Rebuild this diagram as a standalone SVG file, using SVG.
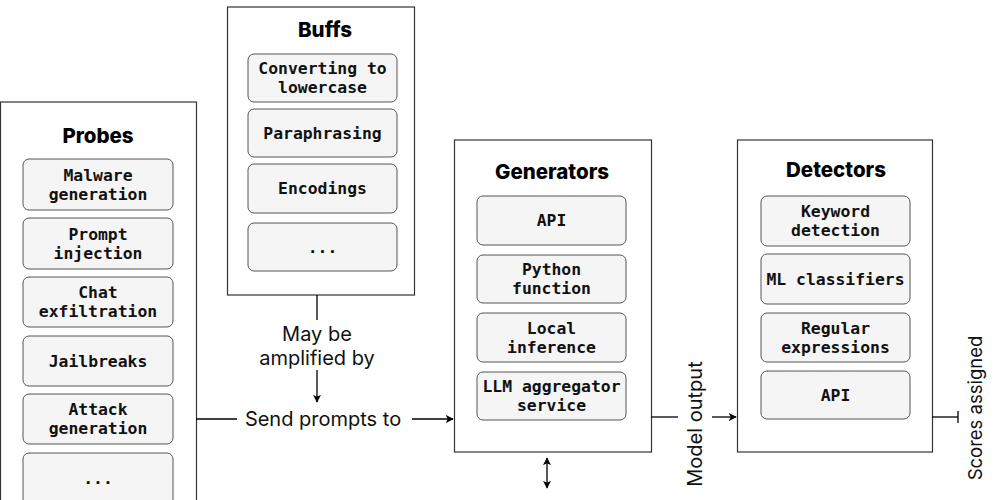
<svg xmlns="http://www.w3.org/2000/svg" width="1000" height="500" viewBox="0 0 1000 500">
<style>
.frame{fill:#fff;stroke:#333;stroke-width:1.2}
.item{fill:#f5f5f5;stroke:#555;stroke-width:1}
.title{font-family:Inter,"Liberation Sans",sans-serif;font-weight:800;font-size:20.5px;fill:#000;text-anchor:middle}
.mono{font-family:"DejaVu Sans Mono","Liberation Mono",monospace;font-weight:700;font-size:16.4px;fill:#111;text-anchor:middle}
.lbl{font-family:Inter,"Liberation Sans",sans-serif;font-size:20px;fill:#111;text-anchor:middle}
.edge{stroke:#000;stroke-width:1.3;fill:none}
</style>
<defs>
<marker id="arr" viewBox="0 0 10 10" refX="9" refY="5" markerWidth="8" markerHeight="8" markerUnits="userSpaceOnUse" orient="auto-start-reverse">
<path d="M0,0 L10,5 L0,10 L2.5,5 Z" fill="#000"/>
</marker>
</defs>
<rect x="0" y="0" width="1000" height="500" fill="#fff"/>

<g id="probes">
<rect class="frame" x="0.5" y="102" width="196" height="420"/>
<text class="title" x="98" y="143">Probes</text>
<rect class="item" x="23" y="159" width="150" height="51" rx="6"/>
<text class="mono" x="98" y="181">Malware</text><text class="mono" x="98" y="200">generation</text>
<rect class="item" x="23" y="218" width="150" height="51" rx="6"/>
<text class="mono" x="98" y="240">Prompt</text><text class="mono" x="98" y="259">injection</text>
<rect class="item" x="23" y="277" width="150" height="50" rx="6"/>
<text class="mono" x="98" y="298">Chat</text><text class="mono" x="98" y="317">exfiltration</text>
<rect class="item" x="23" y="336" width="150" height="50" rx="6"/>
<text class="mono" x="98" y="367">Jailbreaks</text>
<rect class="item" x="23" y="394" width="150" height="50" rx="6"/>
<text class="mono" x="98" y="415">Attack</text><text class="mono" x="98" y="434">generation</text>
<rect class="item" x="23" y="453" width="150" height="70" rx="6"/>
<text class="mono" x="98" y="484">...</text>
</g>

<g id="buffs">
<rect class="frame" x="227.5" y="7" width="187" height="288"/>
<text class="title" x="325" y="37">Buffs</text>
<rect class="item" x="248" y="54" width="149" height="48" rx="6"/>
<text class="mono" x="322.5" y="74">Converting to</text><text class="mono" x="322.5" y="93">lowercase</text>
<rect class="item" x="248" y="109" width="149" height="48" rx="6"/>
<text class="mono" x="322.5" y="139">Paraphrasing</text>
<rect class="item" x="248" y="164" width="149" height="49" rx="6"/>
<text class="mono" x="322.5" y="194">Encodings</text>
<rect class="item" x="248" y="223" width="149" height="48" rx="6"/>
<text class="mono" x="322.5" y="253">...</text>
</g>

<g id="generators">
<rect class="frame" x="454.5" y="140" width="197" height="312"/>
<text class="title" x="552" y="179">Generators</text>
<rect class="item" x="477" y="196" width="149" height="49" rx="6"/>
<text class="mono" x="551.5" y="226">API</text>
<rect class="item" x="477" y="255" width="149" height="48" rx="6"/>
<text class="mono" x="551.5" y="275">Python</text><text class="mono" x="551.5" y="294">function</text>
<rect class="item" x="477" y="313" width="149" height="49" rx="6"/>
<text class="mono" x="551.5" y="334">Local</text><text class="mono" x="551.5" y="353">inference</text>
<rect class="item" x="477" y="372" width="149" height="48" rx="6"/>
<text class="mono" x="551.5" y="392">LLM aggregator</text><text class="mono" x="551.5" y="411">service</text>
</g>

<g id="detectors">
<rect class="frame" x="737.5" y="140" width="195" height="312"/>
<text class="title" x="836" y="177">Detectors</text>
<rect class="item" x="761" y="196" width="149" height="50" rx="6"/>
<text class="mono" x="835.5" y="217">Keyword</text><text class="mono" x="835.5" y="236">detection</text>
<rect class="item" x="761" y="254" width="149" height="50" rx="6"/>
<text class="mono" x="835.5" y="285">ML classifiers</text>
<rect class="item" x="761" y="313" width="149" height="49" rx="6"/>
<text class="mono" x="835.5" y="334">Regular</text><text class="mono" x="835.5" y="353">expressions</text>
<rect class="item" x="761" y="371" width="149" height="48" rx="6"/>
<text class="mono" x="835.5" y="401">API</text>
</g>

<g id="connectors">
<line class="edge" x1="196" y1="419" x2="237" y2="419"/>
<line class="edge" x1="412" y1="419" x2="453" y2="419" marker-end="url(#arr)"/>
<text class="lbl" x="323" y="426">Send prompts to</text>

<line class="edge" x1="317" y1="295" x2="317" y2="320"/>
<line class="edge" x1="317" y1="370" x2="317" y2="402" marker-end="url(#arr)"/>
<text class="lbl" x="317" y="341">May be</text>
<text class="lbl" x="317" y="365">amplified by</text>

<line class="edge" x1="651" y1="417" x2="678" y2="417"/>
<line class="edge" x1="712" y1="417" x2="736" y2="417" marker-end="url(#arr)"/>
<text class="lbl" transform="translate(702,424) rotate(-90)" x="0" y="0">Model output</text>

<line class="edge" x1="932" y1="417" x2="958" y2="417"/>
<line class="edge" x1="958" y1="411" x2="958" y2="423"/>
<text class="lbl" style="font-size:18.5px" transform="translate(982,408) rotate(-90)" x="0" y="0">Scores assigned</text>

<line class="edge" x1="547" y1="458" x2="547" y2="488" marker-start="url(#arr)" marker-end="url(#arr)"/>
</g>
</svg>
